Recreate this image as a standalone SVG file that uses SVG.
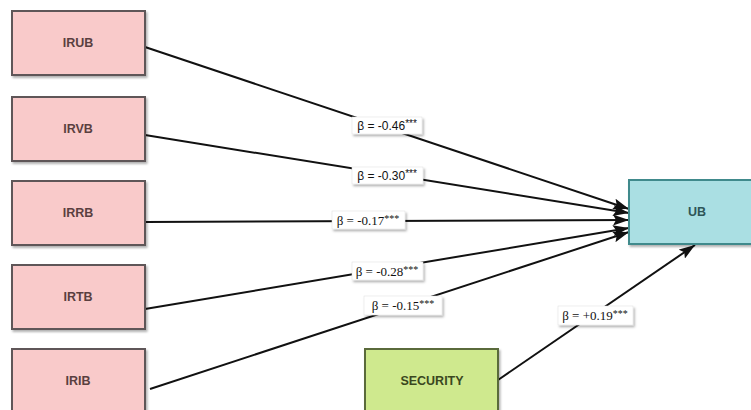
<svg xmlns="http://www.w3.org/2000/svg" width="751" height="410" viewBox="0 0 751 410">
<style>
.node rect{stroke-width:2}
.pink rect{fill:#f9caca;stroke:#5e5658}
.ntext{font-family:"Liberation Sans",Arial,sans-serif;font-weight:bold;font-size:12.5px;text-anchor:middle;dominant-baseline:central}
.pink text{fill:#5a3f40}
.conn line{stroke:#111;stroke-width:2;fill:none}
.lab rect{fill:#fff;stroke:#ddd;stroke-width:0.5}
.lab text{font-family:"Liberation Serif","Times New Roman",serif;font-size:13px;fill:#111;text-anchor:middle}
.lab text.sans{font-family:"Liberation Sans",Arial,sans-serif;font-size:12px}
.sup{font-size:10px}
</style>
<defs>
<marker id="arr" viewBox="0 0 16 11" refX="16" refY="5.5" markerWidth="16" markerHeight="11" markerUnits="userSpaceOnUse" orient="auto">
<path d="M0,0 L16,5.5 L0,11 L3,5.5 Z" fill="#111"/>
</marker>
<filter id="sh" x="-10%" y="-10%" width="130%" height="140%">
<feDropShadow dx="1.5" dy="2" stdDeviation="1.2" flood-color="#000" flood-opacity="0.3"/>
</filter>
</defs>
<rect width="751" height="410" fill="#fff"/>
<g id="connectors" class="conn">
<line x1="145" y1="47" x2="629" y2="209" marker-end="url(#arr)"/>
<line x1="145" y1="135" x2="629" y2="213" marker-end="url(#arr)"/>
<line x1="145" y1="222" x2="629" y2="220" marker-end="url(#arr)"/>
<line x1="145" y1="309" x2="629" y2="228" marker-end="url(#arr)"/>
<line x1="150" y1="389" x2="629" y2="232" marker-end="url(#arr)"/>
<line x1="498" y1="380" x2="695" y2="245" marker-end="url(#arr)"/>
</g>
<g id="labels" class="lab">
<g filter="url(#sh)"><rect x="352" y="117" width="70" height="17"/></g>
<text class="sans" x="387" y="130">β = -0.46<tspan class="sup" dy="-3">***</tspan></text>
<g filter="url(#sh)"><rect x="352" y="167" width="71" height="17"/></g>
<text class="sans" x="387" y="180">β = -0.30<tspan class="sup" dy="-3">***</tspan></text>
<g filter="url(#sh)"><rect x="332" y="211" width="73" height="18"/></g>
<text x="368" y="225">β = -0.17<tspan class="sup" dy="-3">***</tspan></text>
<g filter="url(#sh)"><rect x="352" y="262" width="71" height="18"/></g>
<text x="387" y="276">β = -0.28<tspan class="sup" dy="-3">***</tspan></text>
<g filter="url(#sh)"><rect x="364" y="296" width="78" height="19"/></g>
<text x="403" y="310">β = -0.15<tspan class="sup" dy="-3">***</tspan></text>
<g filter="url(#sh)"><rect x="558" y="306" width="75" height="19"/></g>
<text x="595" y="320">β = +0.19<tspan class="sup" dy="-3">***</tspan></text>
</g>
<g id="IRUB" class="node pink"><rect x="12" y="11" width="133" height="64" filter="url(#sh)"/><text class="ntext" x="78" y="43">IRUB</text></g>
<g id="IRVB" class="node pink"><rect x="12" y="97" width="133" height="64" filter="url(#sh)"/><text class="ntext" x="78" y="129">IRVB</text></g>
<g id="IRRB" class="node pink"><rect x="12" y="181" width="133" height="64" filter="url(#sh)"/><text class="ntext" x="78" y="213">IRRB</text></g>
<g id="IRTB" class="node pink"><rect x="12" y="265" width="133" height="64" filter="url(#sh)"/><text class="ntext" x="78" y="297">IRTB</text></g>
<g id="IRIB" class="node pink"><rect x="12" y="349" width="133" height="64" filter="url(#sh)"/><text class="ntext" x="78" y="381">IRIB</text></g>
<g id="UB" class="node"><rect x="629" y="180" width="136" height="64" fill="#aadfe3" stroke="#3f8a8c" filter="url(#sh)"/><text class="ntext" x="697" y="212" fill="#2e5557">UB</text></g>
<g id="SECURITY" class="node"><rect x="365" y="349" width="133" height="64" fill="#cfe98e" stroke="#5a6a3a" filter="url(#sh)"/><text class="ntext" x="432" y="381" fill="#3a4720">SECURITY</text></g>
</svg>
